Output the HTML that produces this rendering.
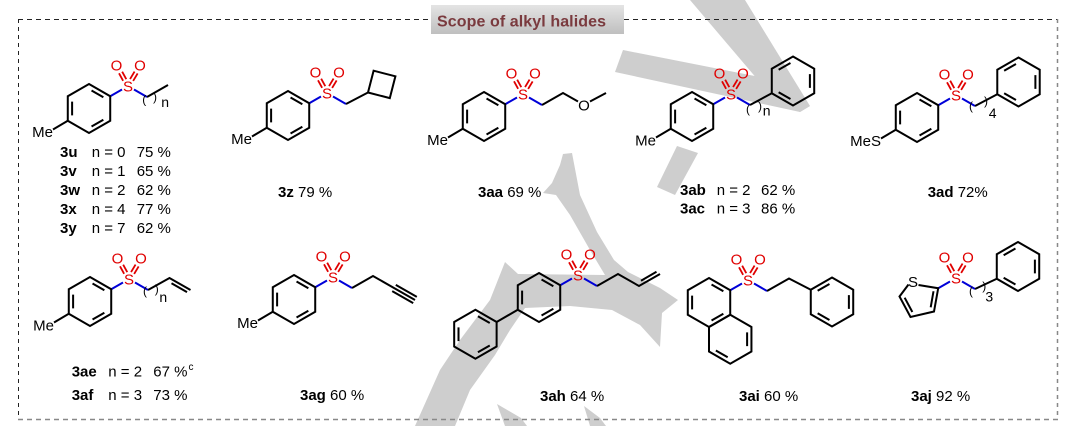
<!DOCTYPE html>
<html><head><meta charset="utf-8">
<style>
html,body{margin:0;padding:0;background:#fff;}
body{width:1071px;height:426px;overflow:hidden;position:relative;}
svg{position:absolute;left:0;top:0;}
text{font-family:"Liberation Sans",Arial,sans-serif;font-size:15px;fill:#000;}
.r{fill:#e00000;text-anchor:middle;}
.m{text-anchor:end;}
.p{font-size:12px;}
.s{font-size:14px;}
</style></head>
<body>
<svg xmlns="http://www.w3.org/2000/svg" xmlns:xlink="http://www.w3.org/1999/xlink" width="1071" height="426" viewBox="0 0 1071 426">
<defs>
<linearGradient id="tg" x1="0" y1="0" x2="0" y2="1"><stop offset="0" stop-color="#e4e4e4"/><stop offset="1" stop-color="#bfbfbf"/></linearGradient>
<g id="hA"><path d="M0,-24.5L21.22,-12.25L21.22,12.25L0,24.5L-21.22,12.25L-21.22,-12.25Z M2.53,-18.04L14.36,-11.21 M-16.89,-6.82L-16.89,6.82 M14.36,11.21L2.53,18.04" fill="none" stroke="#000" stroke-width="2"/></g>
<g id="hB"><path d="M0,-24.5L21.22,-12.25L21.22,12.25L0,24.5L-21.22,12.25L-21.22,-12.25Z M-14.36,-11.21L-2.53,-18.04 M16.89,-6.82L16.89,6.82 M-2.53,18.04L-14.36,11.21" fill="none" stroke="#000" stroke-width="2"/></g>
<g id="hC"><path d="M0,-24.5L21.22,-12.25L21.22,12.25L0,24.5L-21.22,12.25L-21.22,-12.25Z M16.89,-6.82L16.89,6.82 M-2.53,18.04L-14.36,11.21" fill="none" stroke="#000" stroke-width="2"/></g>
<g id="so2">
<path d="M-17.78,10.25L-6,3.5M6,3.5L19,11" stroke="#0000d8" stroke-width="2" fill="none"/>
<path d="M-1.72,-6.86L-5.82,-14.36M-4.88,-5.14L-8.98,-12.64M5.14,-5.07L9.64,-12.57M2.06,-6.93L6.56,-14.43" stroke="#e00000" stroke-width="1.8" fill="none"/>
</g>
<g id="tol">
<use href="#so2" xlink:href="#so2"/>
<use href="#hA" xlink:href="#hA" x="-39" y="22.5"/>
<path d="M-60.22,34.75L-75,43.5" stroke="#000" stroke-width="2" fill="none"/>
</g>
</defs>

<!-- watermark -->
<g fill="#cecece">
<polygon points="690,0 745,0 810,106 800,112 775,100"/>
<polygon points="623,50 770,79 810,106 800,112 615,72"/>
<polygon points="677,146 698,153 675,195 657,187"/>
<polygon points="563,154 572,153 580,195 597,232 614,260 628,272 660,288 678,300 662,313 660,347 640,325 612,310 570,306 525,308 510,330 495,355 470,390 455,426 415,426 440,370 460,340 490,300 505,262 518,274 605,275 590,250 570,215 556,195 543,193 552,183 560,165"/>
<polygon points="497,404 521,418 527,426 505,426"/>
<polygon points="584,406 600,418 606,426 590,426"/>
</g>

<!-- frame -->
<g fill="none">
<line x1="18" y1="19.5" x2="431" y2="19.5" stroke="#222" stroke-dasharray="5 4"/>
<line x1="624" y1="19.5" x2="1058" y2="19.5" stroke="#222" stroke-dasharray="5 4"/>
<line x1="18.5" y1="19" x2="18.5" y2="419" stroke="#222" stroke-dasharray="4 4"/>
<line x1="1057.5" y1="19" x2="1057.5" y2="419" stroke="#888" stroke-width="1.5" stroke-dasharray="4 4"/>
<line x1="18" y1="419.5" x2="1058" y2="419.5" stroke="#888" stroke-width="1.5" stroke-dasharray="5 4"/>
</g>
<rect x="431" y="5" width="193" height="29" fill="url(#tg)"/>
<text x="437" y="26.5" style="font-size:16px;font-weight:bold;fill:#7a3a3e" textLength="169">Scope of alkyl halides</text>

<!-- structures -->
<g fill="none" stroke="#000" stroke-width="2">
<use href="#tol" xlink:href="#tol" x="128" y="86"/>
<path d="M147,97L168,85"/>

<use href="#tol" xlink:href="#tol" x="327" y="93"/>
<path d="M346,104L368,92.5 M368,92.5L373.6,70.7L395.4,76.3L389.8,98.1Z"/>

<use href="#tol" xlink:href="#tol" x="523" y="94"/>
<path d="M542,105L563,93L578,101.5 M590,101.5L606,93"/>

<use href="#tol" xlink:href="#tol" x="731" y="94"/>
<path d="M750,105L771.78,93.25"/>
<use href="#hB" xlink:href="#hB" x="793" y="81"/>

<use href="#tol" xlink:href="#tol" x="956" y="95"/>
<path d="M975,106L997.28,94.25"/>
<use href="#hB" xlink:href="#hB" x="1018.5" y="82"/>

<use href="#tol" xlink:href="#tol" x="129" y="279"/>
<path d="M148,290L169.5,278L190.5,290 M171.5,283.3L187,292.1"/>

<use href="#tol" xlink:href="#tol" x="333" y="277"/>
<path d="M352,288L373,276L394,288L415,300 M392.2,291.1L413.2,303.1 M395.8,284.9L416.8,296.9"/>

<use href="#so2" xlink:href="#so2" x="578" y="275"/>
<use href="#hA" xlink:href="#hA" x="539" y="297.5"/>
<use href="#hA" xlink:href="#hA" x="475.4" y="334.25"/>
<path d="M517.78,309.75L496.62,322 M597,286L618,274L639,286L660,274 M641,280.7L656.5,271.8"/>

<use href="#so2" xlink:href="#so2" x="748" y="280"/>
<use href="#hA" xlink:href="#hA" x="709" y="302.5"/>
<use href="#hC" xlink:href="#hC" x="730.22" y="339.25"/>
<path d="M767,291L789,278.5L810.8,289.75"/>
<use href="#hB" xlink:href="#hB" x="832" y="302"/>

<use href="#so2" xlink:href="#so2" x="956" y="278"/>
<path d="M918.5,285L938.2,288.25L934,311.5L910.5,317L899.5,296.5L908.5,284.5 M933.5,291.25L930.7,307.35 M912.35,312L904.65,297.7"/>
<path d="M975,289L996.8,278.75"/>
<use href="#hB" xlink:href="#hB" x="1018" y="266.5"/>
</g>

<!-- S / O labels -->
<text class="r" x="128" y="91.5">S</text><text class="r" x="116.5" y="70.4">O</text><text class="r" x="140" y="70.4">O</text>
<text class="r" x="327" y="98.5">S</text><text class="r" x="315.5" y="77.4">O</text><text class="r" x="339" y="77.4">O</text>
<text class="r" x="523" y="99.5">S</text><text class="r" x="511.5" y="78.4">O</text><text class="r" x="535" y="78.4">O</text>
<text class="r" x="731" y="99.5">S</text><text class="r" x="719.5" y="78.4">O</text><text class="r" x="743" y="78.4">O</text>
<text class="r" x="956" y="100.5">S</text><text class="r" x="944.5" y="79.4">O</text><text class="r" x="968" y="79.4">O</text>
<text class="r" x="129" y="284.5">S</text><text class="r" x="117.5" y="263.4">O</text><text class="r" x="141" y="263.4">O</text>
<text class="r" x="333" y="282.5">S</text><text class="r" x="321.5" y="261.4">O</text><text class="r" x="345" y="261.4">O</text>
<text class="r" x="578" y="280.5">S</text><text class="r" x="566.5" y="259.4">O</text><text class="r" x="590" y="259.4">O</text>
<text class="r" x="748" y="285.5">S</text><text class="r" x="736.5" y="264.4">O</text><text class="r" x="760" y="264.4">O</text>
<text class="r" x="956" y="283.5">S</text><text class="r" x="944.5" y="262.4">O</text><text class="r" x="968" y="262.4">O</text>

<text x="584" y="110.5" text-anchor="middle">O</text>
<text x="913" y="287" text-anchor="middle">S</text>

<!-- Me labels -->
<text class="m" x="53" y="137">Me</text>
<text class="m" x="252" y="144">Me</text>
<text class="m" x="448" y="145">Me</text>
<text class="m" x="656" y="145.5">Me</text>
<text class="m" x="881" y="146">MeS</text>
<text class="m" x="54" y="330.5">Me</text>
<text class="m" x="258" y="328">Me</text>

<!-- parentheses / subscripts -->
<text class="p" x="142.3" y="103.6">(</text><text class="p" x="153" y="101.1">)</text><text class="s" x="161.2" y="106.9">n</text>
<text class="p" x="746" y="113.1">(</text><text class="p" x="758" y="110.1">)</text><text class="s" x="762.8" y="115.4">n</text>
<text class="p" x="969" y="109.8">(</text><text class="p" x="984" y="104.8">)</text><text class="s" x="988.8" y="118">4</text>
<text class="p" x="143" y="294.8">(</text><text class="p" x="154.7" y="293.1">)</text><text class="s" x="159.4" y="302">n</text>
<text class="p" x="969" y="294.8">(</text><text class="p" x="982.3" y="289.8">)</text><text class="s" x="985.4" y="301.7">3</text>

<!-- compound labels -->
<g>
<text x="60" y="157" font-weight="bold">3u</text><text x="91.7" y="157">n = 0</text><text x="136.7" y="157">75 %</text>
<text x="60" y="176" font-weight="bold">3v</text><text x="91.7" y="176">n = 1</text><text x="136.7" y="176">65 %</text>
<text x="60" y="195" font-weight="bold">3w</text><text x="91.7" y="195">n = 2</text><text x="136.7" y="195">62 %</text>
<text x="60" y="214" font-weight="bold">3x</text><text x="91.7" y="214">n = 4</text><text x="136.7" y="214">77 %</text>
<text x="60" y="233" font-weight="bold">3y</text><text x="91.7" y="233">n = 7</text><text x="136.7" y="233">62 %</text>

<text x="278" y="197"><tspan font-weight="bold">3z</tspan> 79 %</text>
<text x="478" y="197"><tspan font-weight="bold">3aa</tspan> 69 %</text>

<text x="680" y="195" font-weight="bold">3ab</text><text x="716.7" y="195">n = 2</text><text x="761" y="195">62 %</text>
<text x="680" y="213.5" font-weight="bold">3ac</text><text x="716.7" y="213.5">n = 3</text><text x="761" y="213.5">86 %</text>

<text x="927.7" y="197"><tspan font-weight="bold">3ad</tspan> 72%</text>

<text x="71.7" y="376.7" font-weight="bold">3ae</text><text x="108.3" y="376.7">n = 2</text><text x="153.3" y="376.7">67 %</text><text x="188.5" y="370" style="font-size:10px">c</text>
<text x="71.7" y="400" font-weight="bold">3af</text><text x="108.3" y="400">n = 3</text><text x="153.3" y="400">73 %</text>

<text x="300" y="400"><tspan font-weight="bold">3ag</tspan> 60 %</text>
<text x="540" y="401"><tspan font-weight="bold">3ah</tspan> 64 %</text>
<text x="739" y="401"><tspan font-weight="bold">3ai</tspan> 60 %</text>
<text x="911" y="401"><tspan font-weight="bold">3aj</tspan> 92 %</text>
</g>
</svg>
</body></html>
